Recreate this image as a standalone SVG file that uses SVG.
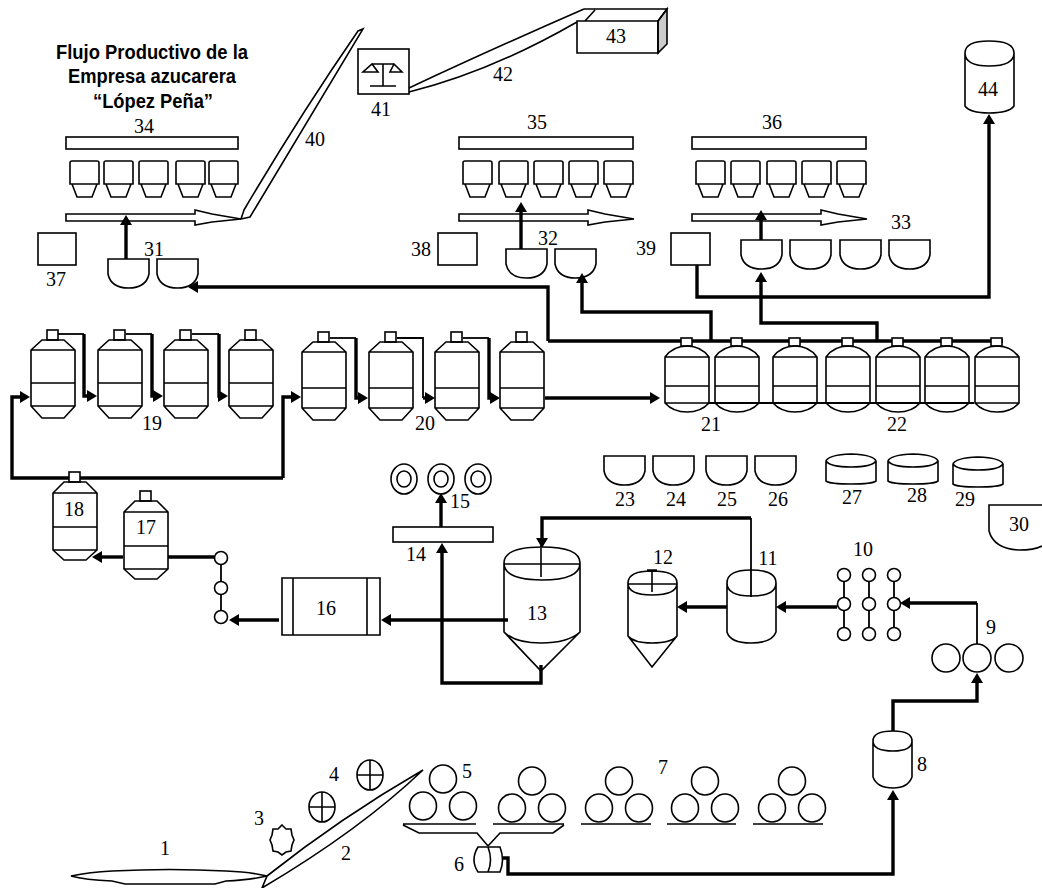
<svg xmlns="http://www.w3.org/2000/svg" width="1042" height="888" viewBox="0 0 1042 888">
<style>
.s{fill:none;stroke:#000;stroke-width:1.6}
.w{fill:#fff;stroke:#000;stroke-width:1.6}
.c{fill:none;stroke:#000;stroke-width:3.4}
.n{fill:none;stroke:#000;stroke-width:1.8}
.a{marker-end:url(#ah)}
text{font-family:"Liberation Serif","Times New Roman",serif;font-size:20px;fill:#000;text-anchor:middle}
text.t{font-family:"Liberation Sans",Arial,sans-serif;font-weight:bold;font-size:20px}
</style>
<defs>
<marker id="ah" markerUnits="userSpaceOnUse" markerWidth="14" markerHeight="14" refX="7" refY="7" orient="auto"><path d="M0,1 L10,7 L0,13 Z" fill="#000"/></marker>
<g id="t19" class="s"><rect class="w" x="-6" y="0" width="11" height="10"/><path d="M-22,20 V76 L-11,88 H11 L22,76 V20 L11,10 H-11 Z M-22,20 H22 M-22,53 H22 M-22,76 H22"/></g>
<g id="t20" class="s"><rect class="w" x="-6" y="0" width="11" height="10"/><path d="M-22,20 V76 L-11,88 H11 L22,76 V20 L11,10 H-11 Z M-22,20 H22 M-22,56 H22 M-22,76 H22"/></g>
<g id="t18" class="s"><rect class="w" x="-6" y="0" width="11" height="10"/><path d="M-22,21 V78 L-11,88 H11 L22,78 V21 L11,10 H-11 Z M-22,21 H22 M-22,55 H22 M-22,78 H22"/></g>
<g id="t21" class="s"><rect class="w" x="-6" y="0" width="11" height="8"/><path d="M-22,19 V65 Q-14,74 0,74 Q14,74 22,65 V19 Q14,8 0,8 Q-14,8 -22,19 Z M-22,19 H22 M-22,48 H22 M-22,65 H22"/></g>
<path id="bowl" class="s" d="M0,0 H41 V15 Q38,29 20.500,29 Q3,29 0,15 Z"/>
<path id="hop" class="s" d="M0,2 Q0,0 2,0 H27 Q29,0 29,2 V23 H0 Z M2,23 L7,36 H22 L27,23"/>
<path id="conv" class="s" d="M0,0 H129 V-4 L146,0 L175,5 L146,8 L129,11 V7 H0 Z"/>
<g id="tri" class="s"><ellipse cx="20" cy="0" rx="13.500" ry="14"/><ellipse cx="0" cy="27" rx="13.500" ry="14"/><ellipse cx="40" cy="27" rx="13.500" ry="14"/></g>
<path id="tub" class="s" d="M0,7 Q2,1 25,0 Q48,1 50,7 V27 Q46,30 25,30 Q4,30 0,27 Z M0,7 Q4,13 25,13 Q46,13 50,7"/>
<circle id="sm" class="w" r="6.500"/>
</defs>

<g id="connectors">
<path class="c a" d="M548,341 V287 H191"/>
<path class="c" d="M548,341 H1003"/>
<path class="c a" d="M711,341 V312 H582 V276"/>
<path class="c a" d="M877,341 V323 H761 V275"/>
<path class="c a" d="M697,265 V297 H989 V117"/>
<path class="c a" d="M126,259 V218"/>
<path class="c a" d="M521,249 V205"/>
<path class="c a" d="M761,240 V213"/>
<path class="c a" d="M84,334 V396 H94"/>
<path class="n" d="M58,334 H84"/>
<path class="c a" d="M152,334 V396 H160"/>
<path class="n" d="M126,334 H152"/>
<path class="c a" d="M219,334 V396 H225"/>
<path class="n" d="M192,334 H219"/>
<path class="c a" d="M283,478 V397 H298"/>
<path class="c a" d="M283,478 H12 V397 H27"/>
<path class="n" d="M330,338 H356"/>
<path class="c a" d="M356,338 V398 H365"/>
<path class="n" d="M397,338 H423 V398"/>
<path class="c a" d="M423,398 H432"/>
<path class="n" d="M463,338 H489"/>
<path class="c a" d="M489,338 V398 H497"/>
<path class="c a" d="M545,398 H657"/>
<path class="n" d="M709,403 H974"/>
<path class="c a" d="M123,557 H95"/>
<path class="c" d="M168,557 H214"/>
<path class="n" d="M221,558 V617"/>
<path class="c a" d="M279,620 H232"/>
<path class="c a" d="M508,620 H384"/>
<path class="c a" d="M541,665 V683 H442 V546"/>
<path class="c a" d="M441,527 V496"/>
<path class="c a" d="M751,518 H542 V545"/>
<path class="n" d="M751,518 V597"/>
<path class="c a" d="M727,607 H680"/>
<path class="c a" d="M837,607 H779"/>
<path class="n" d="M844,575 V634 M869,575 V634 M894,575 V634"/>
<path class="c a" d="M977,603 H903"/>
<path class="n" d="M977,603 V644"/>
<path class="c a" d="M893,731 V701 H977 V676"/>
<path class="c a" d="M503,858 H508 V874 H893 V793"/>
</g>

<g id="title">
<text class="t" x="152" y="59" textLength="192" lengthAdjust="spacingAndGlyphs">Flujo Productivo de la</text>
<text class="t" x="152" y="83" textLength="168" lengthAdjust="spacingAndGlyphs">Empresa azucarera</text>
<text class="t" x="153" y="108" textLength="120" lengthAdjust="spacingAndGlyphs">“López Peña”</text>
</g>

<g id="n1"><path class="s" d="M71,876 Q90,872 112,871 Q170,868 226,871 Q250,872 267,876 Q250,880 226,881 L215,884 H125 L112,881 Q85,880 71,876 Z"/><text x="165" y="855">1</text></g>
<g id="n2"><path class="s" d="M267,876 Q340,818 423,770 Q360,830 262,888 Z"/><text x="346" y="860">2</text></g>
<g id="n3"><path class="s" d="M282,825 L286,829 L291,829 L292,835 L294,840 L292,845 L291,851 L286,852 L282,855 L278,852 L273,851 L272,845 L270,840 L272,835 L273,829 L278,829 Z"/><text x="259" y="825">3</text></g>
<g id="n4"><g class="s"><ellipse cx="322" cy="807" rx="13" ry="15"/><path d="M309,807 H335 M322,792 V822"/><ellipse cx="370" cy="775" rx="13" ry="15"/><path d="M357,775 H383 M370,760 V790"/></g><text x="334" y="781">4</text></g>
<g id="n5"><use href="#tri" x="423" y="779"/><path class="s" d="M403,824 H476 M403,825 L419,833 H477 L488,846"/><use href="#tri" x="512" y="781"/><path class="s" d="M493,824 H564 M564,825 L553,833 H500 L488,846"/><text x="467" y="778">5</text></g>
<g id="n6"><path class="s" d="M478,847 H500 Q505,860 500,872 H478 Q470,860 478,847 Z M488,847 Q493,860 488,872"/><text x="459" y="871">6</text></g>
<g id="n7"><use href="#tri" x="599" y="781"/><use href="#tri" x="685" y="781"/><use href="#tri" x="772" y="781"/><path class="s" d="M581,824 H651 M667,824 H736 M753,824 H823"/><text x="663" y="774">7</text></g>
<g id="n8"><path class="s" d="M873,741 V777 Q877,788 893,788 Q908,788 912,777 V741 M873,741 Q873,731 893,731 Q912,731 912,741 Q912,751 893,751 Q873,751 873,741 Z"/><text x="922" y="771">8</text></g>
<g id="n9"><g class="s"><circle cx="946" cy="658" r="14"/><circle cx="977" cy="658" r="14"/><circle cx="1009" cy="658" r="14"/></g><text x="991" y="634">9</text></g>
<g id="n10"><use href="#sm" x="844" y="575"/><use href="#sm" x="844" y="604"/><use href="#sm" x="844" y="634"/><use href="#sm" x="869" y="575"/><use href="#sm" x="869" y="604"/><use href="#sm" x="869" y="634"/><use href="#sm" x="894" y="575"/><use href="#sm" x="894" y="604"/><use href="#sm" x="894" y="634"/><text x="863" y="556">10</text></g>
<g id="n10b"><use href="#sm" x="221" y="558"/><use href="#sm" x="221" y="588"/><use href="#sm" x="221" y="617"/></g>
<g id="n11"><path class="s" d="M727,583 V632 Q730,643 751,643 Q772,643 776,632 V583 M727,583 Q727,570 751,570 Q776,570 776,583 Q776,596 751,596 Q727,596 727,583 Z"/><text x="768" y="565">11</text></g>
<g id="n12"><path class="s" d="M628,583 V636 L652,667 L677,636 V583 M628,583 Q628,571 652,571 Q677,571 677,583 Q677,595 652,595 Q628,595 628,583 Z M628,584 H677 M652,570 V592 M647,570 H657 M628,636 Q634,643 652,643 Q671,643 677,636"/><text x="663" y="564">12</text></g>
<g id="n13"><path class="s" d="M504,563 V632 L541,671 L580,632 V563 M504,563 Q504,547 542,547 Q580,547 580,563 Q580,580 542,580 Q504,580 504,563 Z M504,564 H580 M541,544 V577 M504,632 Q515,643 541,643 Q568,643 580,632"/><text x="537" y="620">13</text></g>
<g id="n14"><rect class="s" x="393" y="527" width="100" height="15"/><text x="416" y="561">14</text></g>
<g id="n15"><g class="s"><ellipse cx="404" cy="479" rx="13" ry="15"/><ellipse cx="404" cy="479" rx="7" ry="8"/><ellipse cx="441" cy="479" rx="13" ry="15"/><ellipse cx="441" cy="479" rx="7" ry="8"/><ellipse cx="478" cy="479" rx="13" ry="15"/><ellipse cx="478" cy="479" rx="7" ry="8"/></g><text x="460" y="508">15</text></g>
<g id="n16"><path class="s" d="M282,578 H380 V635 H282 Z M293,578 V635 M367,578 V635"/><text x="326" y="615">16</text></g>
<g id="n17"><use href="#t18" x="146" y="491"/><text x="146" y="534">17</text></g>
<g id="n18"><use href="#t18" x="75" y="472"/><text x="74" y="516">18</text></g>
<g id="n19"><use href="#t19" x="53" y="330"/><use href="#t19" x="120" y="330"/><use href="#t19" x="186" y="330"/><use href="#t19" x="251" y="330"/><text x="152" y="430">19</text></g>
<g id="n20"><use href="#t20" x="324" y="332"/><use href="#t20" x="391" y="332"/><use href="#t20" x="457" y="332"/><use href="#t20" x="522" y="332"/><text x="425" y="430">20</text></g>
<g id="n21"><use href="#t21" x="687" y="338"/><use href="#t21" x="737" y="338"/><text x="711" y="431">21</text></g>
<g id="n22"><use href="#t21" x="795" y="338"/><use href="#t21" x="848" y="338"/><use href="#t21" x="898" y="338"/><use href="#t21" x="947" y="338"/><use href="#t21" x="997" y="338"/><text x="897" y="431">22</text></g>
<g id="n23"><use href="#bowl" x="604" y="456"/><text x="625" y="506">23</text></g>
<g id="n24"><use href="#bowl" x="653" y="456"/><text x="676" y="506">24</text></g>
<g id="n25"><use href="#bowl" x="706" y="456"/><text x="727" y="506">25</text></g>
<g id="n26"><use href="#bowl" x="755" y="456"/><text x="778" y="506">26</text></g>
<g id="n27"><use href="#tub" x="826" y="454"/><text x="852" y="504">27</text></g>
<g id="n28"><use href="#tub" x="888" y="454"/><text x="917" y="502">28</text></g>
<g id="n29"><use href="#tub" x="953" y="457"/><text x="965" y="506">29</text></g>
<g id="n30"><path class="s" d="M1042,505 H989 V531 Q994,549 1019,550 Q1034,550 1042,546"/><text x="1019" y="531">30</text></g>
<g id="n31"><use href="#bowl" x="108" y="259"/><use href="#bowl" x="157" y="259"/><text x="154" y="256">31</text></g>
<g id="n32"><use href="#bowl" x="506" y="249"/><use href="#bowl" x="555" y="249"/><text x="548" y="245">32</text></g>
<g id="n33"><use href="#bowl" x="741" y="240"/><use href="#bowl" x="790" y="240"/><use href="#bowl" x="840" y="240"/><use href="#bowl" x="889" y="240"/><text x="901" y="229">33</text></g>
<g id="n34"><rect class="s" x="66" y="137" width="172" height="12"/><use href="#hop" x="70" y="161"/><use href="#hop" x="104" y="161"/><use href="#hop" x="139" y="161"/><use href="#hop" x="176" y="161"/><use href="#hop" x="209" y="161"/><use href="#conv" x="66" y="214"/><text x="144" y="133">34</text></g>
<g id="n35"><rect class="s" x="459" y="137" width="174" height="12"/><use href="#hop" x="463" y="161"/><use href="#hop" x="499" y="161"/><use href="#hop" x="534" y="161"/><use href="#hop" x="569" y="161"/><use href="#hop" x="604" y="161"/><use href="#conv" x="459" y="214"/><text x="537" y="129">35</text></g>
<g id="n36"><rect class="s" x="692" y="137" width="174" height="12"/><use href="#hop" x="696" y="161"/><use href="#hop" x="731" y="161"/><use href="#hop" x="767" y="161"/><use href="#hop" x="802" y="161"/><use href="#hop" x="837" y="161"/><use href="#conv" x="692" y="214"/><text x="772" y="129">36</text></g>
<g id="n37"><rect class="s" x="38" y="233" width="38" height="32"/><text x="56" y="286">37</text></g>
<g id="n38"><rect class="s" x="438" y="233" width="39" height="32"/><text x="421" y="256">38</text></g>
<g id="n39"><rect class="s" x="671" y="233" width="39" height="32"/><text x="646" y="255">39</text></g>
<g id="n40"><path class="s" d="M241,219 L244,210 Q300,115 358,31 L363,29 Q305,125 250,217 Z"/><text x="315" y="146">40</text></g>
<g id="n41"><rect class="s" x="358" y="49" width="51" height="45"/><path class="s" d="M383,64 V86 M370,86 H396 M363,72 H378 L372,64 Z M390,72 H402 L394,64 Z M372,64 H394"/><text x="381" y="116">41</text></g>
<g id="n42"><path class="s" d="M409,88 Q490,50 584,9 M409,92 Q490,72 577,22"/><text x="503" y="81">42</text></g>
<g id="n43"><path fill="#ccc" stroke="#000" stroke-width="1.600" d="M658,21 L667,9 V44 L658,53 Z"/><path class="s" d="M577,21 H658 V53 H577 Z M584,9 H667 L658,21 M595,10 L585,21"/><text x="616" y="43">43</text></g>
<g id="n44"><path class="s" d="M965,53 V106 Q970,113 989,113 Q1009,113 1014,106 V53 M965,53 Q965,41 989,41 Q1014,41 1014,53 Q1014,66 989,66 Q965,66 965,53 Z"/><text x="988" y="96">44</text></g>
</svg>
